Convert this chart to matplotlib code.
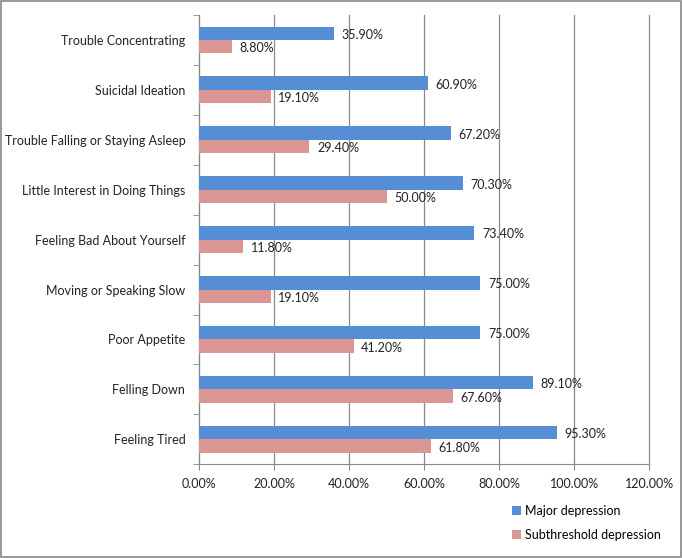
import numpy as np
import matplotlib.pyplot as plt
from matplotlib.patches import Rectangle

# categories listed top to bottom
symptoms = ["Trouble Concentrating", "Suicidal Ideation", "Trouble Falling or Staying Asleep",
            "Little Interest in Doing Things", "Feeling Bad About Yourself",
            "Moving or Speaking Slow", "Poor Appetite", "Felling Down", "Feeling Tired"]
major = [35.9, 60.9, 67.2, 70.3, 73.4, 75.0, 75.0, 89.1, 95.3]
subthreshold = [8.8, 19.1, 29.4, 50.0, 11.8, 19.1, 41.2, 67.6, 61.8]
x_ticks = [0, 20, 40, 60, 80, 100, 120]

blue = "#558ED5"
pink = "#D99694"

plt.rcParams['font.family'] = ['Lato', 'DejaVu Sans']
fs = 9

fig = plt.figure(figsize=(6.82, 5.58), dpi=100)
ax = fig.add_axes([0.292, 0.168, 0.66, 0.805])

n = len(symptoms)
y = np.arange(n)
h = 0.27
ax.barh(y - h / 2, major, height=h, color=blue, label="Major depression", zorder=3)
ax.barh(y + h / 2, subthreshold, height=h, color=pink, label="Subthreshold depression", zorder=3)

for yi, v in zip(y, major):
    ax.text(v + 2.0, yi - h / 2 + 0.03, f"{v:.2f}%", va="center", ha="left", fontsize=fs, color="#222222")
for yi, v in zip(y, subthreshold):
    ax.text(v + 2.0, yi + h / 2 + 0.03, f"{v:.2f}%", va="center", ha="left", fontsize=fs, color="#222222")

ax.set_ylim(n - 0.5, -0.5)
ax.set_xlim(0, 120)
ax.set_xticks(x_ticks)
ax.set_xticklabels([f"{t:.2f}%" for t in x_ticks], fontsize=fs, color="#222222")
ax.set_yticks(y)
ax.set_yticklabels(symptoms, fontsize=fs, color="#222222")
ax.set_yticks(np.arange(n + 1) - 0.5, minor=True)
ax.tick_params(axis="y", which="major", length=0, pad=10)
ax.tick_params(axis="y", which="minor", length=4, color="#888888")
ax.tick_params(axis="x", length=4, color="#888888", pad=6)

ax.grid(axis="x", color="#888888", linewidth=0.9, zorder=0)
for line in ax.get_xgridlines():
    line.set_clip_on(False)
for s in ["top", "right"]:
    ax.spines[s].set_visible(False)
ax.spines["left"].set_color("#888888")
ax.spines["bottom"].set_color("#888888")

fig.legend(loc="lower right", bbox_to_anchor=(0.985, 0.01), frameon=False, fontsize=fs,
           handlelength=0.7, handleheight=0.7, handletextpad=0.3, labelspacing=1.0)

fig.patches.append(Rectangle((0.002, 0.002), 0.996, 0.996, transform=fig.transFigure,
                             fill=False, edgecolor="#888888", linewidth=1.2))

fig.savefig("out.png", dpi=100)
